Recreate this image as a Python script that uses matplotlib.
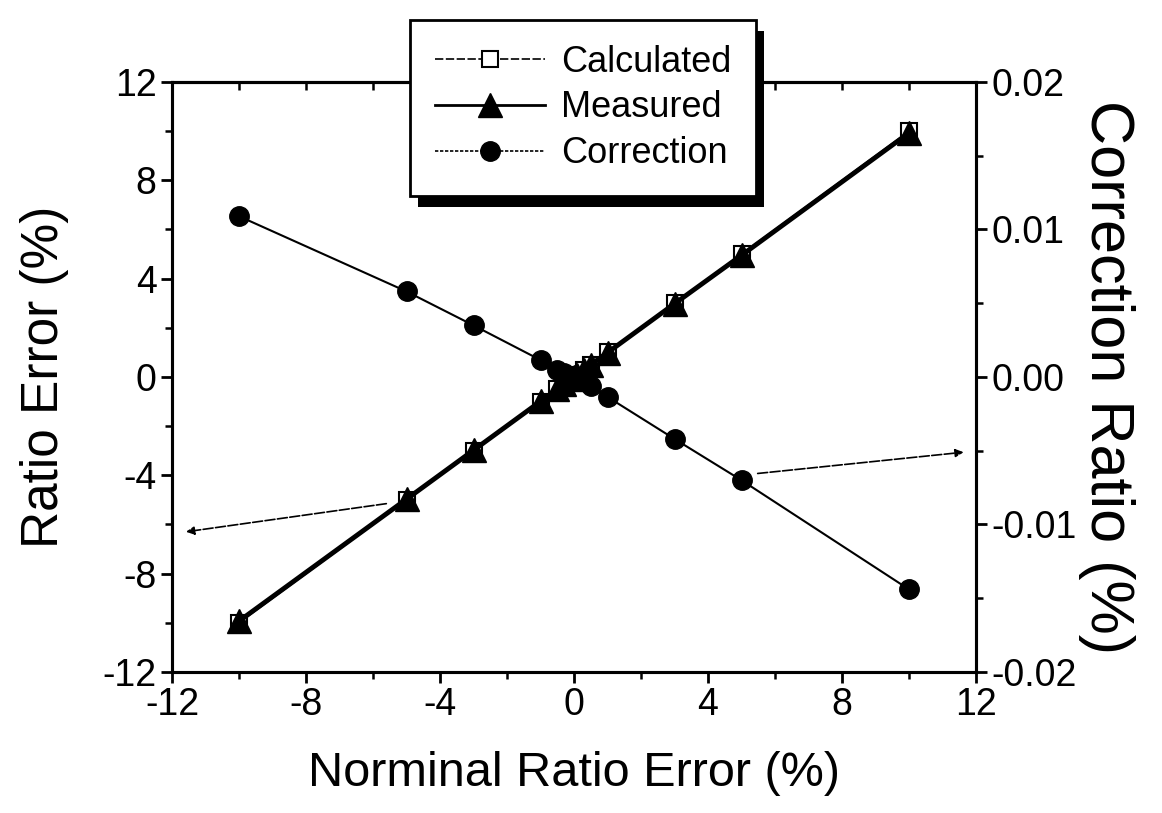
import matplotlib
matplotlib.use("Agg")
import matplotlib.pyplot as plt
from matplotlib.lines import Line2D
from matplotlib.patches import Rectangle
from matplotlib.ticker import MultipleLocator, FormatStrFormatter

plt.rcParams['font.family'] = ['Liberation Sans', 'DejaVu Sans']
plt.rcParams['axes.unicode_minus'] = False

# data
nominal = [-10, -5, -3, -1, -0.5, -0.3, -0.1, 0, 0.1, 0.3, 0.5, 1, 3, 5, 10]
calculated = [-10, -5, -3, -1, -0.5, -0.3, -0.1, 0, 0.1, 0.3, 0.5, 1, 3, 5, 10]
measured = [-9.93, -4.97, -2.98, -0.99, -0.5, -0.3, -0.1, 0, 0.1, 0.3, 0.5, 0.99, 2.98, 4.95, 9.93]
correction = [0.0109, 0.0058, 0.0035, 0.00115, 0.0005, 0.0003, 0.0001, 0.0,
              -0.0001, -0.0003, -0.0006, -0.00135, -0.0042, -0.0070, -0.0144]

fig = plt.figure(figsize=(11.62, 8.13), dpi=100)
ax = fig.add_axes([172/1162, 141/813, 804/1162, 590/813])
ax2 = ax.twinx()

lw_spine = 2.2
tick_fs = 27

ax.plot(nominal, calculated, color='black', lw=1.2, marker='s', ms=12,
        mfc='white', mec='black', mew=1.5, zorder=3)
ax.plot(nominal, measured, color='black', lw=3.5, marker='^', ms=17,
        mfc='black', mec='black', zorder=4)
ax2.plot(nominal, correction, color='black', lw=1.5, marker='o', ms=14,
         mfc='black', mec='black', zorder=4)

ax.set_xlim(-12, 12)
ax.set_ylim(-12, 12)
ax2.set_ylim(-0.02, 0.02)

ax.xaxis.set_major_locator(MultipleLocator(4))
ax.xaxis.set_minor_locator(MultipleLocator(2))
ax.yaxis.set_major_locator(MultipleLocator(4))
ax.yaxis.set_minor_locator(MultipleLocator(2))
ax2.yaxis.set_major_locator(MultipleLocator(0.01))
ax2.yaxis.set_minor_locator(MultipleLocator(0.005))
ax2.yaxis.set_major_formatter(FormatStrFormatter('%.2f'))

for a in (ax, ax2):
    for s in a.spines.values():
        s.set_linewidth(lw_spine)
    a.tick_params(which='major', direction='out', length=8, width=2, labelsize=tick_fs, pad=3)
    a.tick_params(which='minor', direction='out', length=5, width=1.8)

top = ax.secondary_xaxis('top')
top.xaxis.set_major_locator(MultipleLocator(4))
top.xaxis.set_minor_locator(MultipleLocator(2))
top.tick_params(which='both', direction='in', labeltop=False, length=6, width=1.8)
top.spines['top'].set_linewidth(lw_spine)

ax.set_xlabel('Norminal Ratio Error (%)', fontsize=35, labelpad=20)
ax.set_ylabel('Ratio Error (%)', fontsize=37, labelpad=24)
ax2.set_ylabel('Correction Ratio (%)', fontsize=44, rotation=270, labelpad=42)

# arrows pointing to the relevant axes
arrow = dict(arrowstyle='-|>', color='black', lw=1.2, linestyle=(0, (6, 1.5)),
             mutation_scale=12)
ax.annotate('', xy=(0.014, 0.237), xytext=(0.270, 0.286),
            xycoords='axes fraction', textcoords='axes fraction', arrowprops=arrow)
ax.annotate('', xy=(0.988, 0.373), xytext=(0.725, 0.336),
            xycoords='axes fraction', textcoords='axes fraction', arrowprops=arrow)

handles = [
    Line2D([], [], color='black', lw=1.2, linestyle=(0, (5, 1.5)), marker='s', ms=12,
           mfc='white', mec='black', mew=1.5),
    Line2D([], [], color='black', lw=2.0, marker='^', ms=17, mfc='black'),
    Line2D([], [], color='black', lw=1.2, linestyle=(0, (2, 1)), marker='o', ms=14,
           mfc='black'),
]
labels = ['Calculated', 'Measured', 'Correction']
leg = fig.legend(handles, labels, loc='upper left',
                 bbox_to_anchor=(410/1162, 1 - 20/813), fontsize=26,
                 frameon=True, fancybox=False, framealpha=1, edgecolor='black',
                 handlelength=3.05, handletextpad=0.45, labelspacing=0.3,
                 borderpad=0.68, borderaxespad=0)
leg.get_frame().set_linewidth(2)
leg.set_zorder(10)

fig.canvas.draw()
bb = leg.get_window_extent()
W, H = fig.bbox.width, fig.bbox.height
shadow = Rectangle(((bb.x0 + 8)/W, (bb.y0 - 11)/H), bb.width/W, bb.height/H,
                   transform=fig.transFigure, facecolor='black', edgecolor='none',
                   zorder=9)
fig.patches.append(shadow)

fig.savefig('out.png', dpi=100)
